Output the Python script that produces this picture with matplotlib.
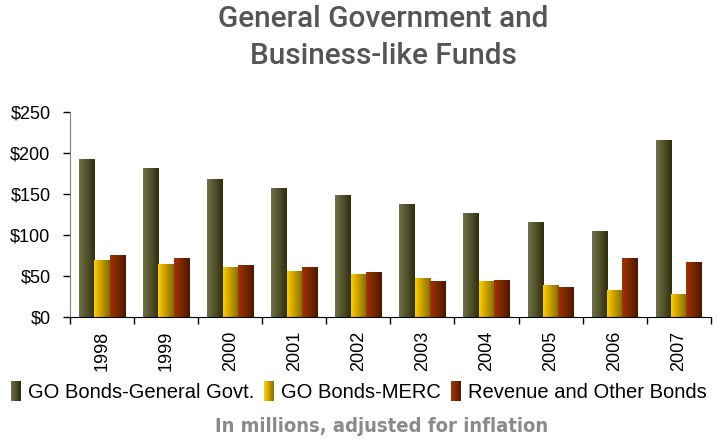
import matplotlib.pyplot as plt
import matplotlib.colors as mcolors
from matplotlib.legend_handler import HandlerBase
from matplotlib.patches import Rectangle, Patch
from matplotlib import font_manager
import numpy as np

years = ['1998', '1999', '2000', '2001', '2002', '2003', '2004', '2005', '2006', '2007']
go_general = [193, 182, 168, 157, 148, 137, 126, 115, 104, 216]
go_merc = [69, 64, 60, 56, 52, 47, 44, 38, 33, 28]
revenue_other = [75, 71, 63, 60, 55, 44, 45, 36, 72, 67]

series_names = ['GO Bonds-General Govt.', 'GO Bonds-MERC', 'Revenue and Other Bonds']
# (light left edge, dark right edge) for each series
gradients = [('#72724a', '#2f2f0c'), ('#ffcc00', '#846a00'), ('#a03500', '#501800')]

plt.rcParams['font.family'] = ['Liberation Sans', 'DejaVu Sans']

# pick a narrow face for the footnote if one is present
names = {f.name for f in font_manager.fontManager.ttflist}
narrow = [n for n in ['Liberation Sans Narrow', 'DejaVu Sans Condensed'] if n in names]
note_family = narrow + ['DejaVu Sans']

fig = plt.figure(figsize=(7.18, 4.42), dpi=100)
ax = fig.add_axes([0.0975, 0.2835, 0.8925, 0.4625])

x = np.arange(len(years))
width = 0.24
for i, (vals, (c0, c1)) in enumerate(zip([go_general, go_merc, revenue_other], gradients)):
    cmap = mcolors.LinearSegmentedColormap.from_list('g%d' % i, [c0, c1])
    bars = ax.bar(x + (i - 1) * width, vals, width, color='none', edgecolor='none')
    grad = np.linspace(0, 1, 64).reshape(1, -1)
    for b in bars:
        x0, y0 = b.get_x(), b.get_y()
        ax.imshow(grad, cmap=cmap, aspect='auto', interpolation='bilinear',
                  extent=(x0, x0 + b.get_width(), y0, y0 + b.get_height()), zorder=2)

ax.set_xlim(-0.5, len(years) - 0.5)
ax.set_ylim(0, 250)
ax.set_yticks(range(0, 251, 50))
ax.set_yticklabels(['$%d' % v for v in range(0, 251, 50)], fontsize=13)
ax.set_xticks(x)
ax.set_xticklabels(years, rotation=90, fontsize=13)
ax.set_xticks(np.arange(len(years) + 1) - 0.5, minor=True)
ax.tick_params(axis='x', which='major', length=0, pad=10)
ax.tick_params(axis='x', which='minor', length=5, width=1, direction='out')
ax.tick_params(axis='y', length=5, width=1, direction='out', pad=9)
for s in ['top', 'right']:
    ax.spines[s].set_visible(False)
ax.spines['left'].set_color('#808080')
ax.spines['bottom'].set_color('#000000')


class GradientHandler(HandlerBase):
    def __init__(self, c0, c1):
        super().__init__()
        self.cmap = mcolors.LinearSegmentedColormap.from_list('h', [c0, c1])

    def create_artists(self, legend, orig_handle, xdescent, ydescent, width, height, fontsize, trans):
        n = 12
        w = width / n
        return [Rectangle((-xdescent + k * w, -ydescent - 1), w * 1.05, height + 2,
                          facecolor=self.cmap(k / (n - 1)), edgecolor='none', transform=trans)
                for k in range(n)]


handles = [Patch(label=n) for n in series_names]
fig.legend(handles, series_names, loc='center', bbox_to_anchor=(0.5, 0.112), ncol=3,
           frameon=False, fontsize=14.5, handlelength=0.5, handleheight=0.9, handletextpad=0.35,
           columnspacing=0.5,
           handler_map={h: GradientHandler(*g) for h, g in zip(handles, gradients)})

fig.text(0.534, 0.915, 'General Government and\nBusiness-like Funds', ha='center', va='center',
         fontsize=21.5, fontweight='medium', color='#555555', linespacing=1.4,
         family=['Roboto', 'DejaVu Sans'])
fig.text(0.531, 0.036, 'In millions, adjusted for inflation', ha='center', va='center',
         fontsize=14.5, fontweight='bold', color='#8a8a8a', fontstretch='condensed',
         family=note_family)

fig.savefig('out.png', dpi=100)
